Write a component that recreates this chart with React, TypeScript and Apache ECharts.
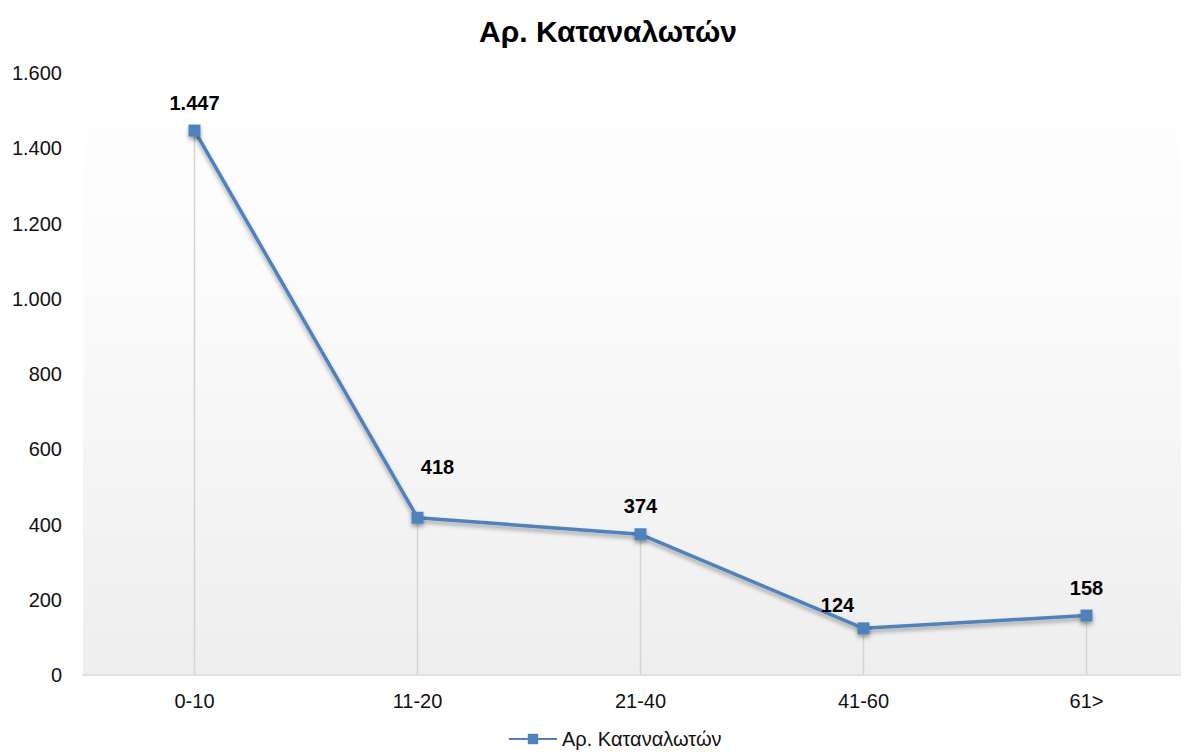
import React, { useEffect, useRef } from "react";
import * as echarts from "echarts";

const categories = ["0-10", "11-20", "21-40", "41-60", "61>"];
const values = [1447, 418, 374, 124, 158];
const seriesName = "Αρ. Καταναλωτών";
const yTicks = { min: 0, max: 1600, interval: 200 };

const fmt = (v: number) => String(v).replace(/\B(?=(\d{3})+(?!\d))/g, ".");

export default function App() {
  const ref = useRef<HTMLDivElement>(null);
  useEffect(() => {
    if (!ref.current) return;
    const chart = echarts.init(ref.current, null, { renderer: "svg" });
    const labelOffsets: Record<number, [number, number]> = {
      1: [20, -23],
      3: [-26, 5],
    };
    chart.setOption({
      animation: false,
      textStyle: { fontFamily: "Liberation Sans, Arial, sans-serif" },
      title: {
        text: seriesName,
        left: "center",
        top: 3,
        textStyle: { fontSize: 30, fontWeight: "bold", color: "#000" },
      },
      legend: {
        bottom: 1,
        left: 495,
        itemWidth: 48,
        itemHeight: 13,
        itemGap: 4,
        data: [seriesName],
        textStyle: { fontSize: 20, color: "#111" },
      },
      grid: {
        left: 75,
        top: 65,
        width: 1115,
        bottom: 80,
        show: true,
        borderWidth: 0,
        backgroundColor: new echarts.graphic.LinearGradient(0, 0, 0, 1, [
          { offset: 0, color: "#ffffff" },
          { offset: 0.35, color: "#fbfbfb" },
          { offset: 1, color: "#eeeeee" },
        ]),
      },
      xAxis: {
        type: "category",
        data: categories,
        axisLine: { lineStyle: { color: "#d9d9d9", width: 1.5 } },
        axisTick: { show: false },
        axisLabel: { fontSize: 20, color: "#111", margin: 16 },
      },
      yAxis: {
        type: "value",
        min: yTicks.min,
        max: yTicks.max,
        interval: yTicks.interval,
        splitLine: { show: false },
        axisLine: { show: false },
        axisTick: { show: false },
        axisLabel: {
          fontSize: 20,
          color: "#111",
          margin: 21,
          formatter: (v: number) => fmt(v),
        },
      },
      series: [
        {
          type: "bar",
          data: values,
          barWidth: 1.5,
          itemStyle: { color: "#d4d4d4" },
          silent: true,
          z: 1,
          legendHoverLink: false,
        },
        {
          name: seriesName,
          type: "line",
          data: values.map((v, i) => ({
            value: v,
            label: labelOffsets[i] ? { offset: labelOffsets[i] } : undefined,
          })),
          symbol: "rect",
          symbolSize: 12,
          z: 3,
          lineStyle: {
            color: "#4F81BD",
            width: 3.5,
            shadowColor: "rgba(0,0,0,0.35)",
            shadowBlur: 4,
            shadowOffsetY: 3,
          },
          itemStyle: {
            color: "#4F81BD",
            shadowColor: "rgba(0,0,0,0.35)",
            shadowBlur: 4,
            shadowOffsetY: 3,
          },
          label: {
            show: true,
            position: "top",
            distance: 12,
            fontSize: 20,
            fontWeight: "bold",
            color: "#000",
            formatter: (p: any) => fmt(p.value),
          },
        },
      ],
    });
    return () => chart.dispose();
  }, []);
  return (
    <div style={{ width: 1181, height: 747, overflow: "hidden" }}>
      <div ref={ref} style={{ width: 1200, height: 747 }} />
    </div>
  );
}
